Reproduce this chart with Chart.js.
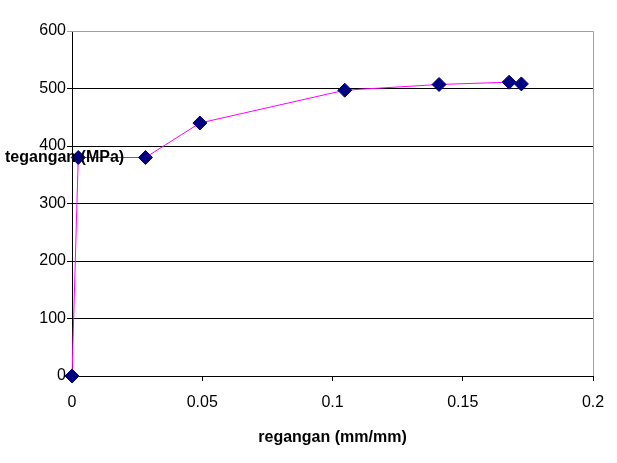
<!DOCTYPE html>
<html>
<head>
<meta charset="utf-8">
<script src="https://cdn.jsdelivr.net/npm/chart.js@4/dist/chart.umd.min.js"></script>
<style>
html,body{margin:0;padding:0;background:#fff;}
#wrap{width:617px;height:463px;position:relative;}
</style>
</head>
<body>
<div id="wrap"><canvas id="c" width="617" height="463"></canvas></div>
<script>
const strainValues = [0, 0.0024, 0.0282, 0.0491, 0.1047, 0.1409, 0.1678, 0.1725];
const stressValues = [0, 380, 380, 440, 497, 507, 511, 508];
const xTicks = [0, 0.05, 0.1, 0.15, 0.2];
const yTicks = [0, 100, 200, 300, 400, 500, 600];
const xTitle = 'regangan (mm/mm)';
const yTitle = 'tegangan (MPa)';

const points = strainValues.map((x, i) => ({x: x, y: stressValues[i]}));

const overlay = {
  id: 'overlay',
  afterDraw(chart) {
    const ctx = chart.ctx;
    const a = chart.chartArea;
    ctx.save();
    ctx.strokeStyle = '#a0a0a0';
    ctx.lineWidth = 1;
    ctx.beginPath();
    ctx.moveTo(a.left, a.top + 0.5);
    ctx.lineTo(a.right + 0.5, a.top + 0.5);
    ctx.lineTo(a.right + 0.5, a.bottom);
    ctx.stroke();
    ctx.fillStyle = '#000';
    ctx.font = 'bold 16px "Liberation Sans", Arial, sans-serif';
    ctx.textBaseline = 'middle';
    ctx.textAlign = 'left';
    const yPix = chart.scales.y.getPixelForValue(380);
    ctx.fillText(yTitle, 5, yPix);
    ctx.textAlign = 'center';
    ctx.fillText(xTitle, (a.left + a.right) / 2, 438);
    ctx.restore();
  }
};

new Chart(document.getElementById('c'), {
  type: 'scatter',
  data: {
    datasets: [{
      data: points,
      showLine: true,
      clip: false,
      borderColor: '#ff00ff',
      borderWidth: 1,
      backgroundColor: '#000080',
      pointBackgroundColor: '#000080',
      pointBorderColor: '#000080',
      pointStyle: 'rectRot',
      pointRadius: 7,
      pointBorderWidth: 1,
      tension: 0
    }]
  },
  options: {
    responsive: false,
    animation: false,
    devicePixelRatio: 1,
    layout: {padding: {top: 31, right: 24, left: 0, bottom: 0}},
    plugins: {legend: {display: false}, tooltip: {enabled: false}},
    scales: {
      x: {
        type: 'linear',
        min: 0, max: 0.2,
        afterBuildTicks(s) { s.ticks = xTicks.map(v => ({value: v})); },
        afterFit(s) { s.height = 87; },
        border: {color: '#000', width: 1},
        grid: {display: true, drawOnChartArea: false, drawTicks: true, tickLength: 5, color: '#000'},
        ticks: {
          color: '#000',
          font: {family: '"Liberation Sans", Arial, sans-serif', size: 16},
          padding: 12,
          maxRotation: 0,
          callback: v => String(v)
        }
      },
      y: {
        type: 'linear',
        min: 0, max: 600,
        afterBuildTicks(s) { s.ticks = yTicks.map(v => ({value: v})); },
        afterFit(s) { s.width = 72; },
        border: {color: '#000', width: 1},
        grid: {
          display: true, drawOnChartArea: true, drawTicks: true, tickLength: 5,
          color: ctx => (ctx.tick && ctx.tick.value === 600) ? '#a0a0a0' : '#000'
        },
        ticks: {
          color: '#000',
          font: {family: '"Liberation Sans", Arial, sans-serif', size: 16},
          padding: 1,
          callback: v => String(v)
        }
      }
    }
  },
  plugins: [overlay]
});
</script>
</body>
</html>
